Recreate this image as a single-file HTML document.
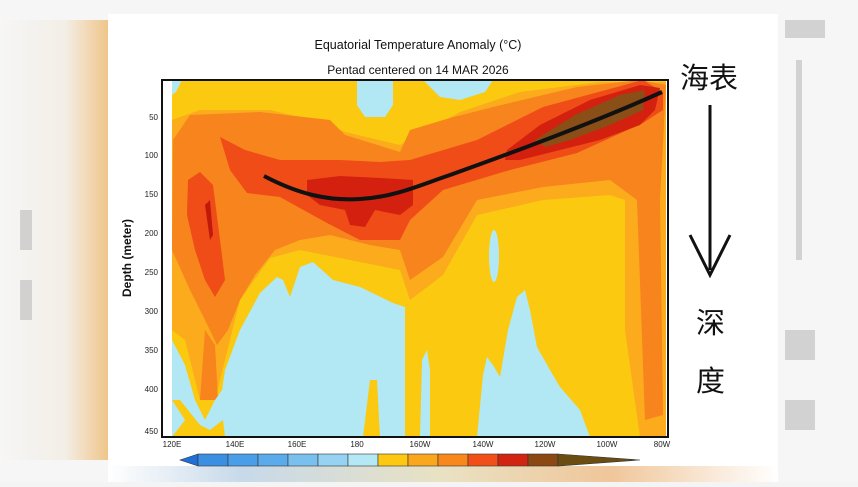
<!DOCTYPE html><html><head><style>body{margin:0;width:858px;height:482px;overflow:hidden;background:#f4f4f4;font-family:"Liberation Sans","Noto Sans CJK SC",sans-serif}</style></head><body>
<svg width="858" height="482" xmlns="http://www.w3.org/2000/svg">
<defs><linearGradient id="lg" x1="0" x2="1"><stop offset="0" stop-color="#f6f6f6"/><stop offset="0.6" stop-color="#f3eee6"/><stop offset="1" stop-color="#f0c68a"/></linearGradient>
<linearGradient id="bg" x1="0" x2="1"><stop offset="0" stop-color="#fff"/><stop offset="0.2" stop-color="#c7d9ea"/><stop offset="0.5" stop-color="#e9e2c2"/><stop offset="0.75" stop-color="#f0c69a"/><stop offset="1" stop-color="#fff"/></linearGradient></defs>
<rect width="858" height="482" fill="#f6f6f6"/>
<rect x="0" y="20" width="108" height="440" fill="url(#lg)"/>
<rect x="108" y="466" width="670" height="16" fill="url(#bg)"/>
<rect x="108" y="14" width="670" height="452" fill="#fff"/>
<text x="418" y="49" font-size="12.5" text-anchor="middle" fill="#111">Equatorial Temperature Anomaly (°C)</text>
<text x="418" y="74" font-size="12" text-anchor="middle" fill="#111">Pentad centered on 14 MAR 2026</text>
<g>
<rect x="162" y="80" width="506" height="357" fill="#fff"/>
<rect x="172" y="80" width="494" height="357" fill="#fbc90f"/>
<!-- light orange -->
<path d="M172 120 L200 110 L270 110 L320 122 L345 132 L400 145 L420 135 L460 112 L520 92 L600 82 L666 82 L666 437 L640 437 L625 330 L625 200 L610 195 L543 200 L477 215 L443 275 L410 300 L400 270 L350 260 L300 250 L270 258 L240 300 L225 360 L215 400 L200 400 L185 340 L172 330 Z" fill="#fbab1c"/>
<!-- orange -->
<path d="M172 250 L173 140 L190 115 L260 112 L330 120 L345 135 L400 152 L410 130 L450 118 L493 107 L577 87 L640 80 L666 85 L660 200 L663 415 L645 420 L637 200 L610 180 L543 187 L477 200 L443 257 L410 280 L400 250 L370 245 L330 235 L300 240 L275 250 L255 275 L240 300 L228 330 L217 345 L205 320 L190 290 Z" fill="#f7841c"/>
<path d="M200 400 L205 330 L215 345 L218 400 Z" fill="#f7841c"/>
<!-- red-orange -->
<path d="M220 137 L245 150 L280 160 L340 160 L380 162 L410 160 L477 140 L543 107 L643 80 L663 92 L663 110 L643 123 L577 153 L510 170 L443 190 L410 220 L400 240 L360 240 L327 223 L280 197 L247 193 L230 170 Z" fill="#ef4c17"/>
<path d="M188 180 L200 172 L213 185 L220 240 L225 280 L215 297 L205 280 L195 250 L187 215 Z" fill="#ef4c17"/>
<!-- dark red -->
<path d="M307 180 L340 176 L380 178 L413 180 L413 205 L400 215 L375 210 L365 227 L350 225 L345 210 L320 205 L307 195 Z" fill="#d4210f"/>
<path d="M507 150 L540 125 L590 100 L640 85 L660 88 L655 110 L640 125 L600 140 L560 150 L520 160 L505 160 Z" fill="#d4210f"/>
<path d="M535 140 L575 115 L620 95 L645 90 L643 110 L610 125 L570 140 L545 147 Z" fill="#8a4f16"/>
<path d="M205 205 L210 200 L213 235 L210 240 Z" fill="#c01a0c"/>
<!-- light blue -->
<path d="M172 340 L185 365 L195 400 L205 420 L215 400 L222 390 L225 370 L240 330 L260 293 L277 277 L283 280 L290 297 L300 267 L313 262 L333 280 L360 287 L393 303 L405 307 L405 437 L380 437 L377 380 L370 380 L363 437 L225 437 L223 420 L210 430 L200 425 L180 400 L172 400 Z" fill="#b2e8f3"/>
<path d="M172 400 L185 420 L172 437 Z" fill="#b2e8f3"/>
<path d="M420 437 L422 360 L427 350 L430 370 L430 437 Z" fill="#b2e8f3"/>
<path d="M477 437 L483 375 L487 357 L493 365 L500 377 L508 330 L517 297 L525 290 L530 310 L537 347 L550 370 L560 387 L580 410 L590 437 Z" fill="#b2e8f3"/>
<ellipse cx="494" cy="256" rx="5" ry="26" fill="#b2e8f3"/>
<path d="M357 80 L393 80 L393 105 L385 117 L365 117 L357 105 Z" fill="#b2e8f3"/>
<path d="M423 80 L493 80 L485 92 L460 100 L440 97 Z" fill="#b2e8f3"/>
<path d="M172 80 L182 80 L176 92 L172 95 Z" fill="#b2e8f3"/>
<rect x="162" y="80" width="506" height="357" fill="none" stroke="#111" stroke-width="2"/>
</g>
<path d="M264 176 C300 195 330 201 360 199 C395 197 420 185 450 175 C520 150 600 120 662 92" fill="none" stroke="#111" stroke-width="4"/>
<g font-size="8" fill="#222" text-anchor="end">
<text x="158" y="120">50</text><text x="158" y="158">100</text><text x="158" y="197">150</text><text x="158" y="236">200</text><text x="158" y="275">250</text><text x="158" y="314">300</text><text x="158" y="353">350</text><text x="158" y="392">400</text><text x="158" y="434">450</text></g>
<g font-size="8" fill="#222" text-anchor="middle">
<text x="172" y="447">120E</text><text x="235" y="447">140E</text><text x="297" y="447">160E</text><text x="357" y="447">180</text><text x="420" y="447">160W</text><text x="483" y="447">140W</text><text x="545" y="447">120W</text><text x="607" y="447">100W</text><text x="662" y="447">80W</text></g>
<text transform="translate(131,258) rotate(-90)" font-size="12" font-weight="bold" fill="#111" text-anchor="middle">Depth (meter)</text>
<g stroke="#333" stroke-width="0.6">
<polygon points="180,460 198,454 198,466" fill="#1f6fd6"/>
<rect x="198" y="454" width="30" height="12" fill="#3a8fe2"/><rect x="228" y="454" width="30" height="12" fill="#4a9ee8"/><rect x="258" y="454" width="30" height="12" fill="#5baaea"/><rect x="288" y="454" width="30" height="12" fill="#79c0ef"/><rect x="318" y="454" width="30" height="12" fill="#96d3f3"/><rect x="348" y="454" width="30" height="12" fill="#b4e8f4"/><rect x="378" y="454" width="30" height="12" fill="#fcc812"/><rect x="408" y="454" width="30" height="12" fill="#fba61f"/><rect x="438" y="454" width="30" height="12" fill="#f8871c"/><rect x="468" y="454" width="30" height="12" fill="#f14f17"/><rect x="498" y="454" width="30" height="12" fill="#d12411"/><rect x="528" y="454" width="30" height="12" fill="#8b4813"/>
<polygon points="558,454 640,460 558,466" fill="#6b4d12"/></g>
<text x="680" y="88" font-size="29" fill="#111">海表</text>
<line x1="710" y1="105" x2="710" y2="270" stroke="#111" stroke-width="3"/>
<path d="M690 235 L710 275 L730 235" fill="none" stroke="#111" stroke-width="3"/>
<text x="696" y="333" font-size="29" fill="#111">深</text>
<text x="696" y="391" font-size="29" fill="#111">度</text>
<g fill="#bbb" opacity="0.6"><rect x="785" y="20" width="40" height="18"/><rect x="796" y="60" width="6" height="200"/><rect x="785" y="330" width="30" height="30"/><rect x="785" y="400" width="30" height="30"/><rect x="20" y="210" width="12" height="40"/><rect x="20" y="280" width="12" height="40"/></g>
</svg></body></html>
